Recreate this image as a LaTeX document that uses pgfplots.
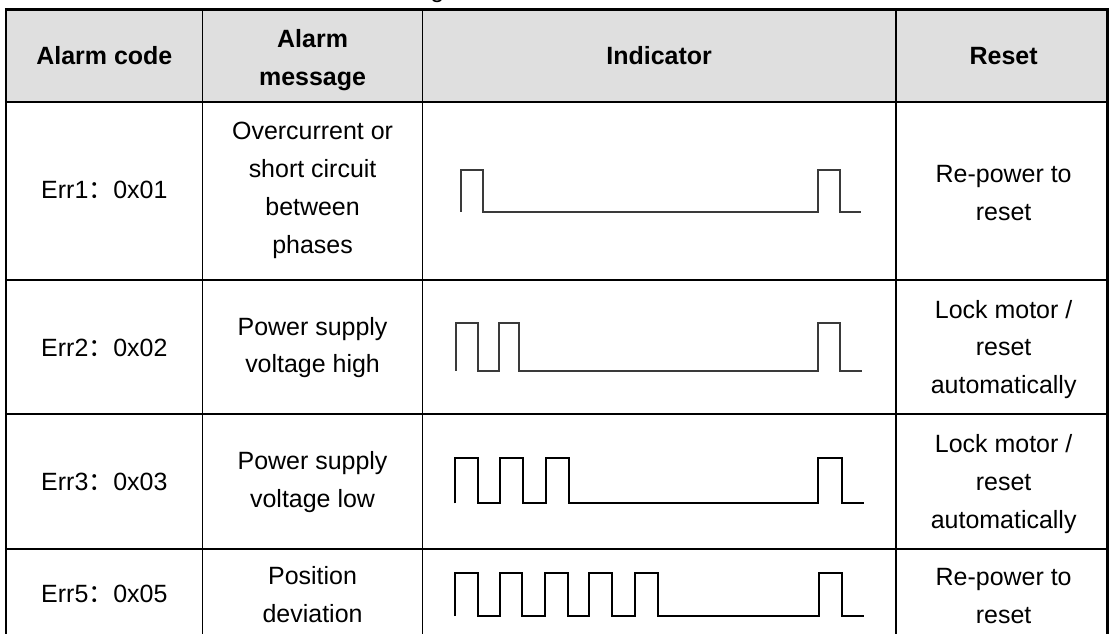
\documentclass[border=0pt]{standalone}
\usepackage{pgfplots}
\pgfplotsset{compat=1.18}
\usepackage{fontspec}
\setmainfont{Liberation Sans}
\newfontfamily\cjk{Noto Sans CJK SC}
\definecolor{hdr}{HTML}{DFDFDF}
\definecolor{wave}{HTML}{3A3A3A}
\newcommand{\code}[2]{Err#1{\cjk ：}0x0#2}
\begin{document}
\begin{tikzpicture}
\begin{axis}[hide axis, scale only axis, width=555pt, height=317.5pt,
  xmin=0, xmax=1110, ymin=0, ymax=635, y dir=reverse, clip=false]
% background and header fill
\fill[white] (axis cs:0,0) rectangle (axis cs:1110,635);
\fill[hdr] (axis cs:6,9.5) rectangle (axis cs:1109,102);
% caption descender, cut at the top edge
\begin{scope}
\clip (axis cs:0,0) rectangle (axis cs:1110,8);
\node[overlay, anchor=base, inner sep=0pt, font=\fontsize{12.5}{19}\selectfont] at (axis cs:438,-3) {g};
\end{scope}
% table rules
\draw[line width=1.5pt] (axis cs:5,9.5) -- (axis cs:1110,9.5);
\draw[line width=1.1pt] (axis cs:5,102) -- (axis cs:1110,102);
\draw[line width=1pt] (axis cs:5,280) -- (axis cs:1110,280);
\draw[line width=1pt] (axis cs:5,415) -- (axis cs:1110,415);
\draw[line width=1pt] (axis cs:5,550) -- (axis cs:1110,550);
\draw[line width=1.1pt] (axis cs:6,9.5) -- (axis cs:6,635);
\draw[line width=0.75pt] (axis cs:203,9.5) -- (axis cs:203,635);
\draw[line width=0.75pt] (axis cs:423,9.5) -- (axis cs:423,635);
\draw[line width=0.9pt] (axis cs:897,9.5) -- (axis cs:897,635);
\draw[line width=1.1pt] (axis cs:1109,9.5) -- (axis cs:1109,635);
% waveforms
\addplot[wave, line width=1pt, mark=none] coordinates {
(462,212) (462,170) (484,170) (484,212) (819,212) (819,170) (841,170) (841,212) (862,212)};
\addplot[wave, line width=1pt, mark=none] coordinates {
(457,371) (457,323) (479,323) (479,371) (500,371) (500,323) (520,323) (520,371)
(819,371) (819,323) (841,323) (841,371) (863,371)};
\addplot[black, line width=0.95pt, mark=none] coordinates {
(456,504) (456,459) (479,459) (479,504) (501,504) (501,459) (524,459) (524,504)
(547,504) (547,459) (570,459) (570,504) (819,504) (819,459) (843,459) (843,504) (865,504)};
\addplot[black, line width=0.95pt, mark=none] coordinates {
(456,617) (456,574) (479,574) (479,617) (501,617) (501,574) (523,574) (523,617)
(546,617) (546,574) (569,574) (569,617) (590,617) (590,574) (613,574) (613,617)
(636,617) (636,574) (659,574) (659,617) (820,617) (820,574) (843,574) (843,617) (865,617)};
% header text
\begin{scope}[every node/.style={align=center, inner sep=0pt, font=\fontsize{12.5}{19}\selectfont\bfseries}]
\node at (axis cs:104.5,56) {Alarm code};
\node at (axis cs:313,60) {Alarm\\message};
\node at (axis cs:660,56) {Indicator};
\node at (axis cs:1005,56) {Reset};
\end{scope}
% body text
\begin{scope}[every node/.style={align=center, inner sep=0pt, font=\fontsize{12.5}{19}\selectfont}]
\node at (axis cs:104.5,190) {\code{1}{1}};
\node at (axis cs:313,191) {Overcurrent or\\short circuit\\between\\phases};
\node at (axis cs:1005,193) {Re-power to\\reset};
\node at (axis cs:104.5,348) {\code{2}{2}};
\node at (axis cs:313,348) {Power supply\\voltage high};
\node at (axis cs:1005,350) {Lock motor /\\reset\\automatically};
\node at (axis cs:104.5,483) {\code{3}{3}};
\node at (axis cs:313,483) {Power supply\\voltage low};
\node at (axis cs:1005,485) {Lock motor /\\reset\\automatically};
\node at (axis cs:104.5,595) {\code{5}{5}};
\node at (axis cs:313,595) {Position\\deviation};
\node at (axis cs:1005,597) {Re-power to\\reset};
\end{scope}
\end{axis}
\end{tikzpicture}
\end{document}
